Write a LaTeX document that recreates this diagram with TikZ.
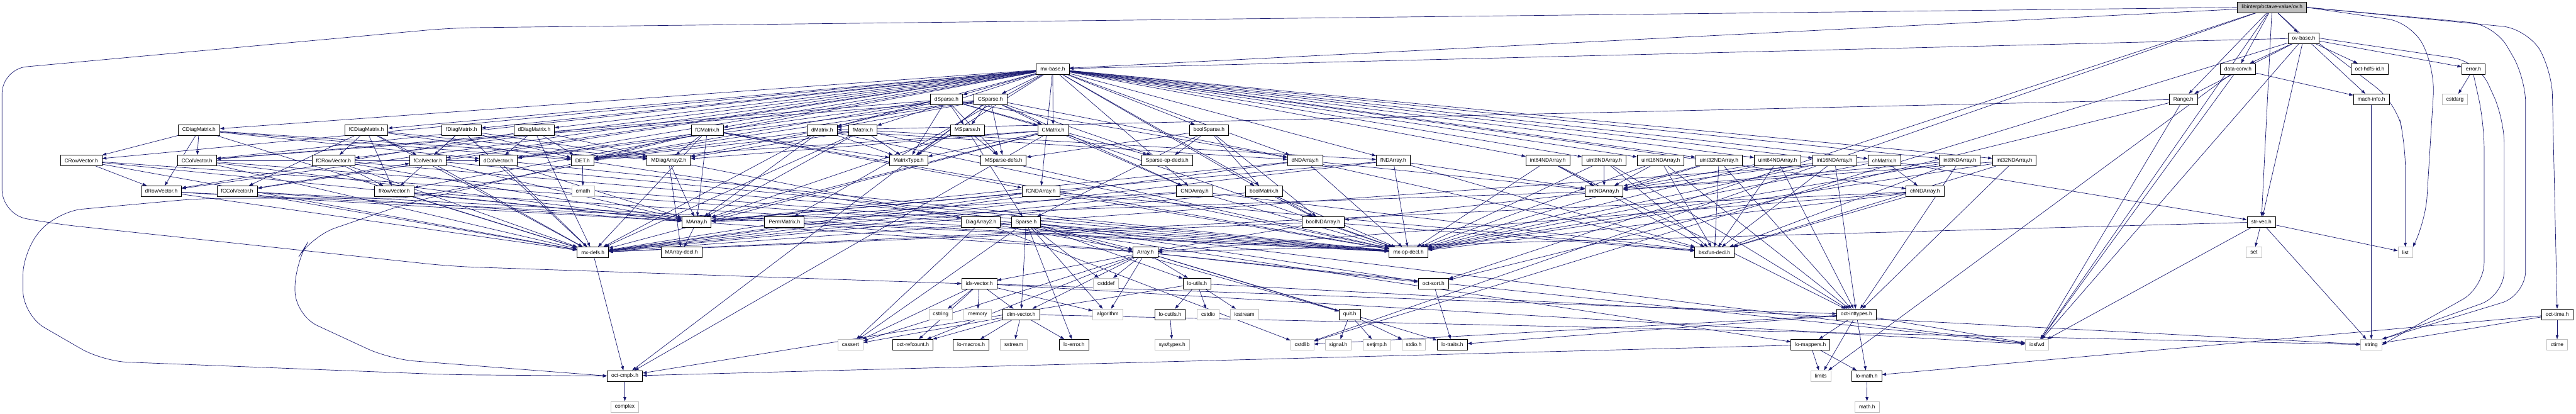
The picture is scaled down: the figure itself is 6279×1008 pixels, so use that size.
\documentclass[tikz,border=0pt]{standalone}
\usepackage{fontspec}
\setmainfont{Liberation Sans}
\usepackage{tikz}
\usetikzlibrary{arrows.meta}
\usepackage{xcolor}
\definecolor{edgeblue}{HTML}{191970}
\definecolor{sysgray}{HTML}{BFBFBF}
\definecolor{focusgray}{HTML}{BFBFBF}
\pgfdeclarelayer{background}
\pgfsetlayers{background,main}

\begin{document}
\begin{tikzpicture}[
    x=0.01cm, y=-0.01cm,
    every node/.style={font=\fontsize{3.65}{4.4}\selectfont},
    hdr/.style={draw=black, fill=white, line width=0.35pt, inner xsep=0.1cm, inner ysep=0pt, minimum height=0.26cm},
    sys/.style={hdr, draw=sysgray},
    focus/.style={hdr, fill=focusgray},
    arrow/.style={-{Triangle[length=0.1cm, width=0.07cm]}, draw=edgeblue, line width=0.3pt},
    detour/.style={arrow, rounded corners=0.6cm}
]
    \useasboundingbox (0,0) rectangle (6279,1008);

    \node[focus] (ovh) at (5538,18) {libinterp/octave-value/ov.h};
    \node[hdr] (ovbase) at (5615,93) {ov-base.h};

    \node[hdr] (mxbase) at (2566,168) {mx-base.h};
    \node[hdr] (dataconv) at (5455,168) {data-conv.h};
    \node[hdr] (hdf5id) at (5776,168) {oct-hdf5-id.h};
    \node[hdr] (errorh) at (6029,168) {error.h};

    \node[hdr] (dsparse) at (2307,242) {dSparse.h};
    \node[hdr] (csparse) at (2414,242) {CSparse.h};
    \node[hdr] (range) at (5322,242) {Range.h};
    \node[hdr] (machinfo) at (5780,242) {mach-info.h};
    \node[sys] (cstdarg) at (5984,242) {cstdarg};

    \node[hdr] (cdiag) at (485,317) {CDiagMatrix.h};
    \node[hdr] (fcdiag) at (893,317) {fCDiagMatrix.h};
    \node[hdr] (fdiag) at (1125,317) {fDiagMatrix.h};
    \node[hdr] (ddiag) at (1302,317) {dDiagMatrix.h};
    \node[hdr] (fcmat) at (1724,317) {fCMatrix.h};
    \node[hdr] (dmat) at (2004,317) {dMatrix.h};
    \node[hdr] (fmat) at (2103,317) {fMatrix.h};
    \node[hdr] (msparse) at (2358,317) {MSparse.h};
    \node[hdr] (cmat) at (2567,317) {CMatrix.h};
    \node[hdr] (boolsparse) at (2947,317) {boolSparse.h};

    \node[hdr] (crow) at (198,391) {CRowVector.h};
    \node[hdr] (ccol) at (480,391) {CColVector.h};
    \node[hdr] (fcrow) at (813,391) {fCRowVector.h};
    \node[hdr] (fcol) at (1043,391) {fColVector.h};
    \node[hdr] (dcol) at (1215,391) {dColVector.h};
    \node[hdr] (deth) at (1420,391) {DET.h};
    \node[hdr] (mdiag) at (1630,391) {MDiagArray2.h};
    \node[hdr] (mtype) at (2215,391) {MatrixType.h};
    \node[hdr] (msdefs) at (2446,391) {MSparse-defs.h};
    \node[hdr] (spopdecls) at (2845,391) {Sparse-op-decls.h};
    \node[hdr] (dnd) at (3181,391) {dNDArray.h};
    \node[hdr] (fnd) at (3396,391) {fNDArray.h};
    \node[hdr] (i64nd) at (3773,391) {int64NDArray.h};
    \node[hdr] (u8nd) at (3910,391) {uint8NDArray.h};
    \node[hdr] (u16nd) at (4048,391) {uint16NDArray.h};
    \node[hdr] (u32nd) at (4190,391) {uint32NDArray.h};
    \node[hdr] (u64nd) at (4333,391) {uint64NDArray.h};
    \node[hdr] (i16nd) at (4472,391) {int16NDArray.h};
    \node[hdr] (chmat) at (4593,391) {chMatrix.h};
    \node[hdr] (i8nd) at (4777,391) {int8NDArray.h};
    \node[hdr] (i32nd) at (4910,391) {int32NDArray.h};

    \node[hdr] (drow) at (393,466) {dRowVector.h};
    \node[hdr] (fccol) at (578,466) {fCColVector.h};
    \node[hdr] (frow) at (961,466) {fRowVector.h};
    \node[sys] (cmath) at (1421,466) {cmath};
    \node[hdr] (fcnd) at (2537,466) {fCNDArray.h};
    \node[hdr] (cnd) at (2912,466) {CNDArray.h};
    \node[hdr] (boolmat) at (3081,466) {boolMatrix.h};
    \node[hdr] (intnd) at (3910,466) {intNDArray.h};
    \node[hdr] (chnd) at (4692,466) {chNDArray.h};

    \node[hdr] (marray) at (1698,541) {MArray.h};
    \node[hdr] (permmat) at (1912,541) {PermMatrix.h};
    \node[hdr] (diagarr) at (2391,541) {DiagArray2.h};
    \node[hdr] (sparse) at (2501,541) {Sparse.h};
    \node[hdr] (boolnd) at (3225,541) {boolNDArray.h};
    \node[hdr] (strvec) at (5512,541) {str-vec.h};

    \node[hdr] (mxdefs) at (1445,615) {mx-defs.h};
    \node[hdr] (marrdecl) at (1661,615) {MArray-decl.h};
    \node[hdr] (arrayh) at (2792,615) {Array.h};
    \node[hdr] (mxopdecl) at (3433,615) {mx-op-decl.h};
    \node[hdr] (bsxfun) at (4179,615) {bsxfun-decl.h};
    \node[sys] (stdset) at (5494,615) {set};
    \node[sys] (stdlist) at (5863,615) {list};

    \node[hdr] (idxvec) at (2387,691) {idx-vector.h};
    \node[sys] (cstddef) at (2696,691) {cstddef};
    \node[hdr] (loutils) at (2918,691) {lo-utils.h};
    \node[hdr] (octsort) at (3494,691) {oct-sort.h};

    \node[sys] (cstring) at (2293,766) {cstring};
    \node[sys] (memory) at (2383,766) {memory};
    \node[hdr] (dimvec) at (2489,766) {dim-vector.h};
    \node[sys] (algorithm) at (2700,766) {algorithm};
    \node[hdr] (locutils) at (2852,766) {lo-cutils.h};
    \node[sys] (cstdio) at (2945,766) {cstdio};
    \node[sys] (iostream) at (3033,766) {iostream};
    \node[hdr] (quit) at (3290,766) {quit.h};
    \node[hdr] (inttypes) at (4525,766) {oct-inttypes.h};
    \node[hdr] (octtime) at (6233,766) {oct-time.h};

    \node[sys] (cassert) at (2073,840) {cassert};
    \node[hdr] (refcount) at (2225,840) {oct-refcount.h};
    \node[hdr] (lomacros) at (2367,840) {lo-macros.h};
    \node[sys] (sstream) at (2471,840) {sstream};
    \node[hdr] (loerror) at (2618,840) {lo-error.h};
    \node[sys] (systypes) at (2857,840) {sys/types.h};
    \node[sys] (cstdlib) at (3174,840) {cstdlib};
    \node[sys] (signalh) at (3262,840) {signal.h};
    \node[sys] (setjmp) at (3356,840) {setjmp.h};
    \node[sys] (stdioh) at (3446,840) {stdio.h};
    \node[hdr] (lotraits) at (3540,840) {lo-traits.h};
    \node[hdr] (lomappers) at (4413,840) {lo-mappers.h};
    \node[sys] (iosfwd) at (4965,840) {iosfwd};
    \node[sys] (stdstring) at (5780,840) {string};
    \node[sys] (ctime) at (6233,840) {ctime};

    \node[hdr] (cmplx) at (1523,916) {oct-cmplx.h};
    \node[sys] (limits) at (4438,916) {limits};
    \node[hdr] (lomath) at (4550,916) {lo-math.h};

    \node[sys] (complex) at (1523,991) {complex};
    \node[sys] (mathh) at (4551,991) {math.h};

    \begin{pgfonlayer}{background}
    \fill[white] (0,0) rectangle (6279,1008);

    \foreach \t in {ovbase,dataconv,range,machinfo,strvec,mxbase,cstdlib,octsort,iosfwd}
        \draw[arrow] (ovh) -- (\t);
    \draw[detour] (ovh.west) -- (1100,68) -- (5,168) -- (5,522) -- (130,545) -- (1100,649) -- (idxvec.west);
    \draw[detour] (ovh.east) -- (6160,70) -- (6220,170) -- (octtime.north);
    \draw[detour] (ovh.east) -- (6080,60) -- (6156,190) -- (6156,720) -- (stdstring.north east);
    \draw[detour] (ovh.east) -- (5880,55) -- (5935,170) -- (5912,540) -- (stdlist.north east);
    \foreach \t in {mxbase,range,dataconv,hdf5id,errorh,strvec,cstdlib,iosfwd}
        \draw[arrow] (ovbase) -- (\t);
    \draw[detour] (ovbase.east) -- (6040,150) -- (6104,290) -- (6104,720) -- (stdstring.north east);
    \draw[detour] (ovbase.south east) -- (5840,250) -- (5863,350) -- (stdlist.north);
    \foreach \t in {mtype,boolmat,chmat,dmat,cmat,fmat,fcmat,dcol,ccol,fcol,fccol,drow,crow,frow,fcrow,ddiag,cdiag,fdiag,fcdiag,permmat,boolsparse,csparse,dsparse,boolnd,chnd,dnd,cnd,fnd,fcnd,i8nd,i16nd,i32nd,i64nd,u8nd,u16nd,u32nd,u64nd}
        \draw[arrow] (mxbase) -- (\t);
    \foreach \t in {machinfo,limits,iosfwd}
        \draw[arrow] (dataconv) -- (\t);
    \draw[arrow] (errorh) -- (cstdarg);
    \draw[detour] (errorh.south) -- (6055,300) -- (6055,700) -- (stdstring.east);
    \draw[arrow] (machinfo) -- (stdstring);
    \foreach \t in {dmat,iosfwd,octsort}
        \draw[arrow] (range) -- (\t);

    \foreach \t in {dmat,dnd,cmat,dcol,ccol,deth,msparse,msdefs,spopdecls,mtype}
        \draw[arrow] (dsparse) -- (\t);
    \foreach \t in {dmat,dnd,cnd,dcol,ccol,cmplx,deth,msparse,msdefs,spopdecls,mtype,cmat}
        \draw[arrow] (csparse) -- (\t);
    \foreach \t in {mdiag,drow,crow,dcol,ccol,deth,mxdefs}
        \draw[arrow] (cdiag) -- (\t);
    \foreach \t in {mdiag,frow,fcrow,fcol,fccol,deth,mxdefs}
        \draw[arrow] (fcdiag) -- (\t);
    \foreach \t in {mdiag,frow,fcol,deth,mxdefs}
        \draw[arrow] (fdiag) -- (\t);
    \foreach \t in {mdiag,drow,dcol,deth,mxdefs}
        \draw[arrow] (ddiag) -- (\t);
    \foreach \t in {marray,mdiag,mtype,dnd,mxdefs,mxopdecl,deth}
        \draw[arrow] (dmat) -- (\t);
    \foreach \t in {marray,mdiag,mtype,fnd,mxdefs,mxopdecl,deth}
        \draw[arrow] (fmat) -- (\t);
    \foreach \t in {marray,mdiag,mtype,cnd,mxdefs,mxopdecl,deth,cmplx}
        \draw[arrow] (cmat) -- (\t);
    \foreach \t in {marray,mdiag,mtype,fcnd,mxdefs,mxopdecl,deth}
        \draw[arrow] (fcmat) -- (\t);
    \draw[detour] (fcmat.south west) -- (1000,493) -- (760,575) -- (719,640) -- (719,768) -- (950,875) -- (cmplx.west);
    \foreach \t in {marray,sparse,msdefs}
        \draw[arrow] (msparse) -- (\t);
    \foreach \t in {sparse,msdefs,boolmat,boolnd,spopdecls}
        \draw[arrow] (boolsparse) -- (\t);

    \foreach \t in {marray,drow,mxdefs,mxopdecl}
        \draw[arrow] (crow) -- (\t);
    \foreach \t in {marray,dcol,mxdefs,mxopdecl}
        \draw[arrow] (ccol) -- (\t);
    \foreach \t in {marray,frow,mxdefs,mxopdecl}
        \draw[arrow] (fcrow) -- (\t);
    \foreach \t in {marray,fcol,mxdefs,mxopdecl}
        \draw[arrow] (fccol) -- (\t);
    \foreach \s in {drow,dcol,frow,fcol}
        \foreach \t in {marray,mxdefs,mxopdecl}
            \draw[arrow] (\s) -- (\t);
    \foreach \t in {cmath,lomappers}
        \draw[arrow] (deth) -- (\t);
    \draw[detour] (deth.south west) -- (1000,483) -- (491,483) -- (140,515) -- (56,610) -- (56,768) -- (250,880) -- (1100,913) -- (cmplx.west);
    \foreach \t in {diagarr,marray,marrdecl}
        \draw[arrow] (mdiag) -- (\t);
    \foreach \s in {dnd,fnd}
        \foreach \t in {marray,intnd,mxdefs,mxopdecl,bsxfun}
            \draw[arrow] (\s) -- (\t);
    \foreach \s in {cnd,fcnd}
        \foreach \t in {marray,mxdefs,mxopdecl,bsxfun}
            \draw[arrow] (\s) -- (\t);
    \foreach \t in {boolnd,mxdefs,mxopdecl}
        \draw[arrow] (boolmat) -- (\t);
    \foreach \t in {marray,boolnd}
        \draw[arrow] (intnd) -- (\t);
    \foreach \s in {i8nd,i16nd,i32nd,i64nd,u8nd,u16nd,u32nd,u64nd}
        \foreach \t in {intnd,mxopdecl,inttypes,bsxfun}
            \draw[arrow] (\s) -- (\t);
    \foreach \t in {chnd,mxdefs,mxopdecl,strvec}
        \draw[arrow] (chmat) -- (\t);
    \foreach \t in {arrayh,mxdefs,mxopdecl,bsxfun}
        \draw[arrow] (chnd) -- (\t);

    \foreach \t in {arrayh,marrdecl}
        \draw[arrow] (marray) -- (\t);
    \foreach \t in {arrayh,mxdefs}
        \draw[arrow] (permmat) -- (\t);
    \foreach \t in {arrayh,cassert,cstdlib}
        \draw[arrow] (diagarr) -- (\t);
    \foreach \t in {cassert,cstddef,iosfwd,algorithm,arrayh,dimvec,loerror,loutils,octsort,quit}
        \draw[arrow] (sparse) -- (\t);
    \foreach \t in {arrayh,mxdefs,mxopdecl,bsxfun}
        \draw[arrow] (boolnd) -- (\t);
    \foreach \t in {iosfwd,stdlist,stdset,stdstring,arrayh}
        \draw[arrow] (strvec) -- (\t);
    \draw[arrow] (mxdefs) -- (cmplx);
    \foreach \t in {cassert,cstddef,algorithm,iosfwd,dimvec,idxvec,lotraits,loutils,octsort,quit,refcount}
        \draw[arrow] (arrayh) -- (\t);
    \foreach \t in {cassert,cstring,algorithm,iosfwd,memory,dimvec,inttypes,refcount}
        \draw[arrow] (idxvec) -- (\t);
    \foreach \t in {cstdio,iostream,stdstring,locutils,cmplx}
        \draw[arrow] (loutils) -- (\t);
    \draw[arrow] (octsort) -- (lotraits);
    \foreach \t in {cassert,sstream,stdstring,loerror,lomacros,refcount}
        \draw[arrow] (dimvec) -- (\t);
    \draw[arrow] (locutils) -- (systypes);
    \foreach \t in {signalh,setjmp,stdioh}
        \draw[arrow] (quit) -- (\t);
    \foreach \t in {cstdlib,limits,iosfwd,lotraits,lomath,lomappers}
        \draw[arrow] (inttypes) -- (\t);
    \foreach \t in {limits,cmplx,lomath}
        \draw[arrow] (lomappers) -- (\t);
    \draw[arrow] (lomath) -- (mathh);
    \draw[arrow] (cmplx) -- (complex);
    \foreach \t in {ctime,stdstring,lomath}
        \draw[arrow] (octtime) -- (\t);
    \end{pgfonlayer}
\end{tikzpicture}
\end{document}
